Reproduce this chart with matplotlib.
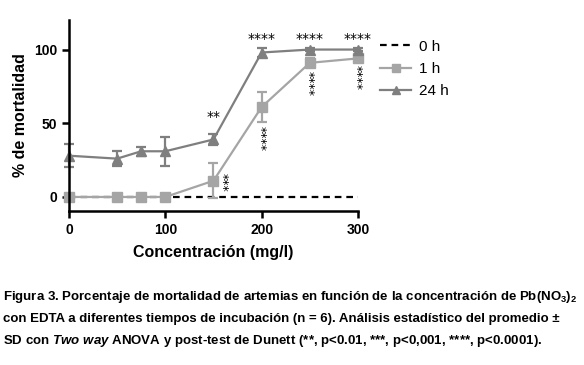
import matplotlib
matplotlib.use("Agg")
import matplotlib.pyplot as plt
from matplotlib.lines import Line2D

plt.rcParams['font.family'] = ['Liberation Sans', 'DejaVu Sans']
plt.rcParams['mathtext.fontset'] = 'custom'
plt.rcParams['mathtext.rm'] = 'Liberation Sans:bold'
plt.rcParams['mathtext.it'] = 'Liberation Sans:italic:bold'

# Data
conc = [0, 50, 75, 100, 150, 200, 250, 300]
h0 = [0, 0, 0, 0, 0, 0, 0, 0]
h1 = [0, 0, 0, 0, 11, 61, 91, 94]
h1_sd = [0, 0, 0, 0, 12, 10, 3, 2]
h24 = [28, 26, 31, 31, 39, 98, 100, 100]
h24_sd = [8, 5, 3, 10, 4, 3, 1, 1]

# significance marks
marks_24 = [(150, 54, "**"), (200, 107, "****"), (250, 107, "****"), (300, 107, "****")]
marks_1 = [(159, 10, "***"), (198, 40, "****"), (248, 77, "****"), (298, 81, "****")]

c24 = "#7f7f7f"
c1 = "#a5a5a5"

fig = plt.figure(figsize=(5.84, 3.65), dpi=100)
ax = fig.add_axes([0.118, 0.422, 0.495, 0.523])

ax.plot(conc, h0, ls=(0, (3, 2.2)), color="black", lw=1.6, clip_on=False)
for y, sd, c, m in [(h1, h1_sd, c1, "s"), (h24, h24_sd, c24, "^")]:
    eb = ax.errorbar(conc, y, yerr=sd, color=c, marker=m, ms=7, lw=1.6,
                     capsize=3.5, capthick=1.6, elinewidth=1.6)
    for a in eb.get_children():
        a.set_clip_on(False)

for x, y, t in marks_24:
    ax.text(x, y, t, ha="center", va="center", fontsize=10, family="DejaVu Sans")
for x, y, t in marks_1:
    ax.text(x, y, t, ha="center", va="center", fontsize=9, rotation=-90, family="DejaVu Sans")

ax.set_xlim(0, 300)
ax.set_ylim(-9.5, 120)
ax.set_xticks([0, 100, 200, 300])
ax.set_yticks([0, 50, 100])
for s in ["top", "right"]:
    ax.spines[s].set_visible(False)
for s in ["left", "bottom"]:
    ax.spines[s].set_linewidth(1.8)
ax.tick_params(width=1.8, length=5, labelsize=10)
for lab in ax.get_xticklabels() + ax.get_yticklabels():
    lab.set_fontweight("bold")
ax.set_xlabel("Concentración (mg/l)", fontsize=11.5, fontweight="bold", labelpad=6)
ax.set_ylabel("% de mortalidad", fontsize=11.5, fontweight="bold", labelpad=4)

handles = [
    Line2D([], [], ls=(0, (3, 2.2)), color="black", lw=1.6),
    Line2D([], [], color=c1, marker="s", ms=6, lw=1.6),
    Line2D([], [], color=c24, marker="^", ms=6, lw=1.6),
]
ax.legend(handles, ["0 h", "1 h", "24 h"], loc="upper left", bbox_to_anchor=(1.03, 0.97),
          frameon=False, fontsize=11, handlelength=2.0, handletextpad=0.5, labelspacing=0.55)

fs = 9.5
fig.text(0.005, 0.186, "Figura 3. Porcentaje de mortalidad de artemias en función de la concentración de Pb(NO$_3$)$_2$",
         fontsize=fs, fontweight="bold", va="center")
fig.text(0.005, 0.126, "con EDTA a diferentes tiempos de incubación (n = 6). Análisis estadístico del promedio ±",
         fontsize=fs, fontweight="bold", va="center")
fig.text(0.005, 0.066, "SD con $\\mathit{Two\\ way}$ ANOVA y post-test de Dunett (**, p<0.01, ***, p<0,001, ****, p<0.0001).",
         fontsize=fs, fontweight="bold", va="center")

fig.savefig("out.png", dpi=100)
